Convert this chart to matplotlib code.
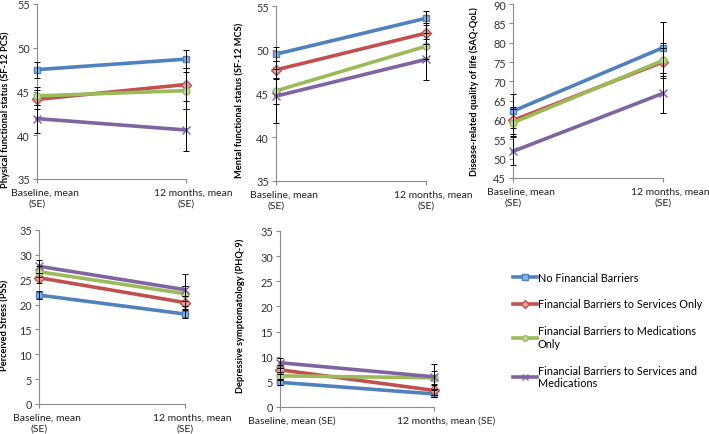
import matplotlib
matplotlib.use("Agg")
import matplotlib.pyplot as plt
from matplotlib.lines import Line2D

plt.rcParams['font.family'] = ['Lato', 'DejaVu Sans']

groups = ["No Financial Barriers",
          "Financial Barriers to Services Only",
          "Financial Barriers to Medications\nOnly",
          "Financial Barriers to Services and\nMedications"]
colors = ["#4F81BD", "#C0504D", "#9BBB59", "#8064A2"]
faces = ["#8DB3E2", "#E6A09E", "#C3D69B", "#B2A1C7"]
markers = ["s", "D", "o", "x"]

# means at baseline / 12 months, one list per group
pcs_mean = [[47.5, 48.7], [44.1, 45.8], [44.5, 45.1], [41.9, 40.6]]
pcs_se = [[0.9, 1.0], [1.1, 1.9], [1.0, 2.1], [1.6, 2.4]]
mcs_mean = [[49.5, 53.6], [47.7, 51.9], [45.3, 50.4], [44.7, 48.9]]
mcs_se = [[0.8, 0.8], [1.0, 1.2], [1.5, 1.5], [3.1, 2.3]]
saq_mean = [[62.3, 78.7], [59.9, 75.0], [59.3, 75.4], [51.9, 66.9]]
saq_se = [[4.3, 6.6], [3.5, 3.5], [3.5, 4.5], [3.6, 5.2]]
pss_mean = [[21.9, 18.1], [25.4, 20.4], [26.6, 22.2], [27.7, 23.0]]
pss_se = [[0.8, 0.9], [1.0, 1.3], [1.1, 1.5], [1.3, 3.2]]
phq_mean = [[4.9, 2.6], [7.4, 3.3], [6.2, 5.8], [8.8, 6.0]]
phq_se = [[0.6, 0.7], [0.9, 1.0], [0.8, 1.3], [1.0, 2.5]]

x_pos = [0, 1]

W, H = 709, 435
fig = plt.figure(figsize=(W / 100, H / 100), dpi=100)


def px_axes(left, right, top, bottom):
    return fig.add_axes([left / W, 1 - bottom / H, (right - left) / W, (bottom - top) / H])


def draw_panel(ax, means, ses, ylim, step, ylabel, xlabels, label_px, two_line=True):
    for m, s, c, f, mk in zip(means, ses, colors, faces, markers):
        ax.plot(x_pos, m, color=c, lw=2.6, marker=mk, ms=5 if mk != "x" else 5.5,
                mfc=f, mec=c, mew=1.0, zorder=3, clip_on=False)
        ax.errorbar(x_pos, m, yerr=s, fmt="none", ecolor="black", elinewidth=0.7,
                    capsize=2, capthick=0.7, zorder=4, clip_on=False)
    ax.set_xlim(0, 1)
    ax.set_ylim(*ylim)
    ax.set_yticks(range(ylim[0], ylim[1] + 1, step))
    for side in ("top", "right"):
        ax.spines[side].set_visible(False)
    for side in ("left", "bottom"):
        ax.spines[side].set_color("#8c8c8c")
        ax.spines[side].set_linewidth(0.8)
    ax.tick_params(axis="y", labelsize=7.8, length=3, pad=2, colors="#333333")
    ax.tick_params(axis="y", color="#8c8c8c")
    ax.set_xticks(x_pos)
    ax.set_xticklabels([])
    ax.tick_params(axis="x", length=3, color="#8c8c8c")
    fig.text(label_px[0] / W, 1 - label_px[1] / H, ylabel, rotation=90, fontsize=6.7,
             fontweight="bold", ha="center", va="center")
    tr = ax.get_xaxis_transform()
    for xp, lab in zip(x_pos, xlabels):
        if two_line:
            ax.annotate(lab[0], (xp, 0), xycoords=tr, xytext=(7.5, -13), textcoords="offset pixels",
                        ha="center", va="center", fontsize=7.5, color="#222222")
            ax.annotate(lab[1], (xp, 0), xycoords=tr, xytext=(0, -24), textcoords="offset pixels",
                        ha="center", va="center", fontsize=7.5, color="#222222")
        else:
            ax.annotate(lab[0] + " " + lab[1], (xp, 0), xycoords=tr, xytext=(12, -13),
                        textcoords="offset pixels", ha="center", va="center", fontsize=7.5,
                        color="#222222")


xlabs = [("Baseline, mean", "(SE)"), ("12 months, mean", "(SE)")]

ax1 = px_axes(37, 186, 5, 180)
draw_panel(ax1, pcs_mean, pcs_se, (35, 55), 5, "Physical functional status (SF-12 PCS)",
           xlabs, (5, 110))
ax2 = px_axes(276, 426, 7, 182)
draw_panel(ax2, mcs_mean, mcs_se, (35, 55), 5, "Mental functional status (SF-12 MCS)",
           xlabs, (240, 100))
ax3 = px_axes(513, 663, 5, 179)
draw_panel(ax3, saq_mean, saq_se, (45, 90), 5, "Disease-related quality of life (SAQ-QoL)",
           xlabs, (474, 92))
ax4 = px_axes(39, 185, 231, 405)
draw_panel(ax4, pss_mean, pss_se, (0, 35), 5, "Perceived Stress (PSS)", xlabs, (5, 325))
ax5 = px_axes(280, 434, 232, 408)
draw_panel(ax5, phq_mean, phq_se, (0, 35), 5, "Depressive symptomatology (PHQ-9)",
           xlabs, (240, 316), two_line=False)

handles = [Line2D([], [], color=c, lw=2.6, marker=mk, ms=4, mfc=f, mec=c)
           for c, f, mk in zip(colors, faces, markers)]
fig.legend(handles, groups, loc="upper left", bbox_to_anchor=(503 / W, 1 - 263 / H),
           frameon=False, fontsize=7.8, handlelength=2.2, handletextpad=0.1,
           labelspacing=1.45)

fig.savefig("out.png", dpi=100)
